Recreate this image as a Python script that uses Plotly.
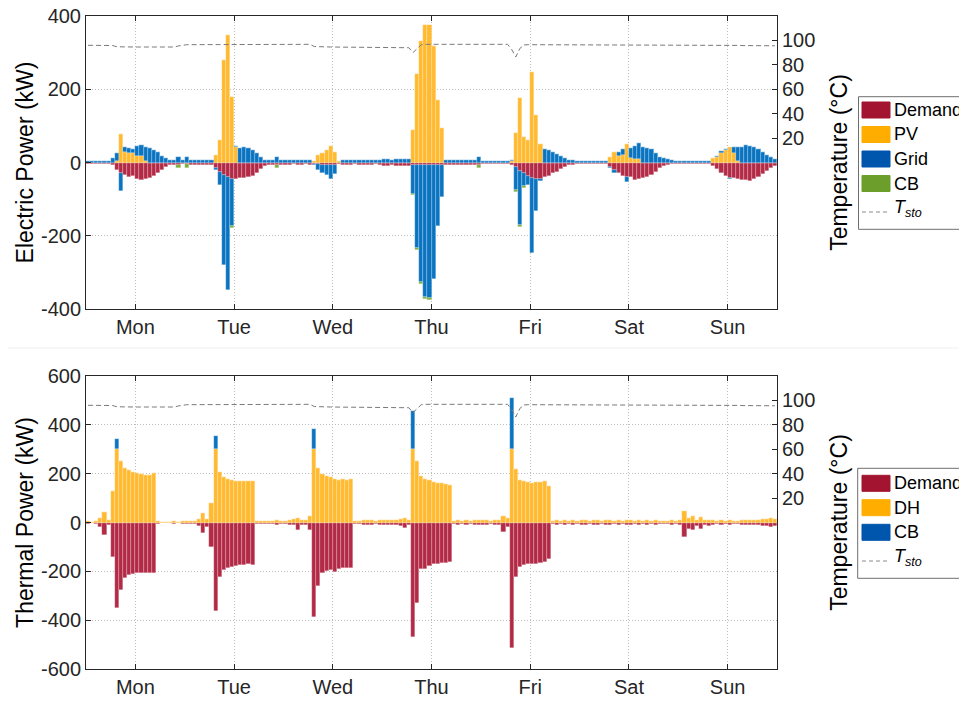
import plotly.graph_objects as go

# ---------------- data (hourly, Mon 00:00 ... Sun 23:00) ----------------
DAY_LABELS = ["Mon", "Tue", "Wed", "Thu", "Fri", "Sat", "Sun"]
DAY_TICKS = [12, 36, 60, 84, 108, 132, 156]
EL_TICKS = [-400, -200, 0, 200, 400]
EL_TICK_TEXT = ["-400", "-200", "0", "200", "400"]
TH_TICKS = [-600, -400, -200, 0, 200, 400, 600]
TH_TICK_TEXT = ["-600", "-400", "-200", "0", "200", "400", "600"]
T_TICKS = [20, 40, 60, 80, 100]

el_demand = [
    -5, -5, -5, -5, -5, -5, -8, -20, -30, -35, -40, -38, -45, -48, -45, -42, -38, -30, -20, -13, -8, -6, -6, -5,
    -5, -6, -6, -6, -6, -6, -6, -15, -25, -35, -40, -45, -45, -42, -42, -40, -36, -28, -18, -10, -6, -6, -6, -6,
    -6, -6, -5, -6, -6, -5, -6, -5, -5, -6, -6, -6, -6, -5, -6, -6, -6, -5, -6, -6, -6, -6, -5, -7,
    -9, -9, -8, -9, -9, -9, -9, -6, -6, -6, -6, -6, -6, -6, -6, -7, -7, -7, -7, -7, -6, -7, -7, -6,
    -5, -5, -5, -5, -5, -5, -5, -8, -12, -22, -30, -37, -42, -45, -44, -40, -36, -30, -25, -18, -12, -8, -6, -5,
    -5, -5, -5, -5, -5, -5, -5, -11, -20, -30, -37, -40, -40, -48, -46, -43, -40, -34, -25, -16, -10, -7, -5, -5,
    -5, -5, -5, -5, -5, -5, -5, -5, -10, -18, -28, -36, -43, -42, -45, -47, -48, -50, -46, -40, -32, -22, -15, -10,
]
el_pv = [
    0, 0, 0, 0, 0, 0, 0, 5, 77, 30, 25, 25, 18, 18, 3, 0, 0, 0, 0, 0, 0, 0, 0, 0,
    0, 0, 0, 0, 0, 0, 0, 20, 61, 280, 348, 178, 41, 0, 0, 0, 0, 0, 0, 0, 0, 0, 0, 0,
    0, 0, 0, 0, 0, 0, 0, 5, 20, 27, 34, 45, 30, 4, 0, 0, 0, 0, 0, 0, 0, 0, 0, 0,
    0, 0, 0, 0, 0, 0, 0, 89, 243, 333, 375, 375, 318, 172, 93, 0, 0, 0, 0, 0, 0, 0, 0, 0,
    0, 0, 0, 0, 0, 0, 0, 5, 80, 177, 69, 61, 248, 130, 50, 0, 0, 0, 0, 0, 0, 0, 0, 0,
    0, 0, 0, 0, 0, 0, 0, 14, 28, 18, 20, 50, 11, 9, 9, 0, 0, 0, 0, 0, 0, 0, 0, 0,
    0, 0, 0, 0, 0, 0, 0, 0, 11, 15, 27, 34, 43, 27, 3, 0, 0, 0, 0, 0, 0, 0, 0, 0,
]
el_grid = [
    5, 5, 5, 5, 5, 5, 11, 20, -47, 13, 15, 13, 27, 30, 40, 40, 35, 28, 18, 12, 8, 6, 15, 6,
    15, 7, 7, 7, 7, 7, 7, -5, -36, -245, -308, -128, 4, 40, 42, 40, 35, 25, 14, 8, 6, 6, 15, 6,
    6, 6, 6, 6, 6, 6, 6, -2, -16, -22, -29, -40, -25, 1, 6, 6, 6, 6, 6, 6, 6, 6, 6, 7,
    9, 9, 8, 9, 9, 9, 9, -79, -228, -320, -362, -365, -312, -166, -87, 7, 7, 7, 7, 7, 6, 7, 7, 15,
    5, 5, 5, 5, 5, 5, 5, 3, -63, -148, -33, -24, -206, -87, -6, 38, 35, 30, 24, 18, 12, 8, 6, 5,
    5, 5, 5, 5, 5, 5, 5, -3, -10, 12, 17, -12, 29, 36, 43, 43, 39, 36, 25, 16, 11, 9, 7, 5,
    5, 5, 5, 5, 5, 5, 5, 5, 1, 3, 5, 3, -3, 15, 39, 43, 48, 45, 43, 36, 30, 20, 14, 9,
]
el_cb = [
    0, 0, 0, 0, 0, 0, 0, 0, 0, 0, 0, 0, 0, 0, 0, 0, 0, 0, 0, 0, 0, 0, -10, 0,
    -10, 0, 0, 0, 0, 0, 0, 0, 0, 0, 0, -5, 0, 0, 0, 0, 0, 0, 0, 0, 0, 0, -8, 0,
    0, 0, 0, 0, 0, 0, 0, 0, 0, 0, 0, 0, 0, 0, 0, 0, 0, 0, 0, 0, 0, 0, 0, 0,
    0, 0, 0, 0, 0, 0, 0, -4, -5, -5, -5, -4, 0, 0, 0, 0, 0, 0, 0, 0, 0, 0, 0, -8,
    0, 0, 0, 0, 0, 0, 0, 0, -5, -7, -6, 0, 0, 0, 0, 0, 0, 0, 0, 0, 0, 0, 0, 0,
    0, 0, 0, 0, 0, 0, 0, 0, 0, 0, 0, 0, 0, 0, 0, 0, 0, 0, 0, 0, 0, 0, 0, 0,
    0, 0, 0, 0, 0, 0, 0, 0, 0, 0, 0, 0, 0, 0, 0, 0, 0, 0, 0, 0, 0, 0, 0, 0,
]

th_demand = [
    -5, -4, -6, -20, -51, -10, -140, -351, -276, -228, -215, -211, -205, -208, -205, -205, -208, -5, -4, -4, -4, -5, -4, -5,
    -5, -5, -6, -15, -45, -20, -100, -361, -222, -195, -185, -184, -180, -175, -175, -170, -174, -6, -5, -6, -7, -8, -9, -8,
    -8, -10, -12, -30, -10, -12, -30, -388, -262, -208, -200, -195, -201, -190, -185, -185, -188, -8, -8, -9, -10, -9, -8, -10,
    -10, -12, -10, -12, -15, -22, -12, -467, -330, -190, -190, -180, -170, -168, -165, -165, -160, -8, -9, -8, -9, -8, -9, -10,
    -9, -10, -8, -10, -12, -37, -20, -515, -222, -181, -175, -170, -170, -168, -165, -160, -150, -8, -9, -8, -10, -8, -9, -8,
    -9, -10, -8, -10, -9, -8, -9, -10, -8, -9, -8, -9, -10, -8, -9, -8, -9, -8, -9, -8, -7, -8, -9, -8,
    -10, -58, -25, -30, -15, -28, -12, -15, -9, -8, -9, -8, -9, -8, -8, -9, -10, -12, -10, -12, -16, -15, -17, -16,
]
th_dh = [
    5, 4, 6, 18, 44, 10, 130, 300, 250, 222, 217, 208, 201, 198, 194, 194, 201, 5, 4, 4, 4, 5, 4, 5,
    5, 5, 6, 15, 40, 15, 80, 300, 205, 188, 180, 175, 172, 170, 170, 168, 168, 6, 5, 6, 7, 8, 9, 8,
    8, 10, 15, 20, 10, 12, 25, 300, 222, 200, 190, 185, 180, 175, 180, 175, 178, 8, 8, 9, 10, 9, 8, 10,
    10, 12, 10, 12, 15, 20, 12, 300, 250, 190, 180, 175, 165, 162, 160, 158, 155, 8, 9, 8, 9, 8, 9, 10,
    9, 10, 8, 10, 12, 27, 20, 300, 220, 174, 170, 165, 160, 165, 165, 170, 150, 8, 9, 8, 10, 8, 9, 8,
    9, 10, 8, 10, 9, 8, 9, 10, 8, 9, 8, 9, 10, 8, 9, 8, 9, 8, 9, 8, 7, 8, 9, 8,
    10, 48, 20, 25, 12, 22, 10, 12, 9, 8, 9, 8, 9, 8, 8, 9, 10, 12, 10, 12, 16, 15, 17, 16,
]
th_cb = [
    0, 0, 0, 0, 0, 0, 0, 42, 0, 0, 0, 0, 0, 0, 0, 0, 0, 0, 0, 0, 0, 0, 0, 0,
    0, 0, 0, 0, 0, 0, 0, 54, 0, 0, 0, 0, 0, 0, 0, 0, 0, 0, 0, 0, 0, 0, 0, 0,
    0, 0, 0, 0, 0, 0, 0, 82, 0, 0, 0, 0, 0, 0, 0, 0, 0, 0, 0, 0, 0, 0, 0, 0,
    0, 0, 0, 0, 0, 0, 0, 157, 0, 0, 0, 0, 0, 0, 0, 0, 0, 0, 0, 0, 0, 0, 0, 0,
    0, 0, 0, 0, 0, 0, 0, 208, 0, 0, 0, 0, 0, 0, 0, 0, 0, 0, 0, 0, 0, 0, 0, 0,
    0, 0, 0, 0, 0, 0, 0, 0, 0, 0, 0, 0, 0, 0, 0, 0, 0, 0, 0, 0, 0, 0, 0, 0,
    0, 0, 0, 0, 0, 0, 0, 0, 0, 0, 0, 0, 0, 0, 0, 0, 0, 0, 0, 0, 0, 0, 0, 0,
]

t_sto = [
    96.0, 96.0, 96.0, 96.0, 96.0, 96.0, 95.8, 94.8, 94.6, 94.6, 94.6, 94.6, 94.6, 94.6, 94.5, 94.5, 94.5, 94.5, 94.5, 94.5, 94.5, 94.6, 95.5, 96.3,
    96.5, 96.5, 96.6, 96.6, 96.5, 96.5, 96.5, 96.5, 96.6, 96.6, 96.6, 96.6, 96.8, 96.8, 96.8, 96.8, 96.8, 96.9, 97.0, 97.0, 97.0, 97.0, 97.0, 97.0,
    97.0, 97.0, 97.0, 97.0, 97.0, 96.9, 96.8, 95.0, 94.7, 94.7, 94.7, 94.6, 94.6, 94.6, 94.6, 94.6, 94.5, 94.5, 94.5, 94.5, 94.4, 94.4, 94.4, 94.4,
    94.3, 94.3, 94.3, 94.2, 94.2, 94.2, 94.0, 90.0, 93.5, 96.5, 96.8, 96.8, 96.8, 96.8, 96.8, 96.8, 96.9, 96.9, 97.0, 97.0, 97.0, 97.0, 97.0, 97.0,
    97.0, 97.0, 97.0, 97.0, 97.0, 97.0, 96.8, 92.5, 86.5, 93.5, 96.3, 96.5, 96.5, 96.5, 96.5, 96.5, 96.5, 96.5, 96.5, 96.5, 96.5, 96.5, 96.4, 96.4,
    96.4, 96.3, 96.3, 96.3, 96.3, 96.3, 96.3, 96.4, 96.5, 96.5, 96.5, 96.5, 96.5, 96.5, 96.5, 96.5, 96.5, 96.5, 96.5, 96.5, 96.5, 96.5, 96.5, 96.5,
    96.5, 96.5, 96.5, 96.4, 96.3, 96.2, 96.1, 96.0, 96.0, 96.0, 96.0, 96.0, 96.0, 95.9, 95.9, 95.8, 95.8, 95.8, 95.7, 95.7, 95.7, 95.6, 95.6, 95.6,
]

hour = list(range(len(el_demand)))
xc = [h + 0.5 for h in hour]

# ---------------- styling ----------------
FONT = "Liberation Sans, Arial, Helvetica, sans-serif"
INK = "#262626"
C_DEM, C_PV, C_GRID, C_CB = "#B22A45", "#FFBA30", "#0B74C1", "#7AAE3A"
L_DEM, L_PV, L_GRID, L_CB = "#A2142F", "#FFAE00", "#0055AD", "#6B9E2A"

# page body has an 8px margin, so the figure is made 8px smaller and all
# window-pixel positions below are shifted by that offset
OFF = 8
WIN_W, WIN_H = 967, 703
W, H = WIN_W - OFF, WIN_H - OFF
# plot-area edges in window pixels
AX_L, AX_R, AX_T, AX_B = 86, 777, 16, 669
PL, PR, PT, PB = AX_L - OFF, AX_R - OFF, AX_T - OFF, AX_B - OFF


def fx(px):  # window px -> paper x
    return (px - AX_L) / (AX_R - AX_L)


def fy(py):  # window px -> paper y
    return (AX_B - py) / (AX_B - AX_T)


fig = go.Figure()


def add_bar(y, name, color, xa, ya):
    fig.add_trace(go.Bar(
        x=xc, y=y, name=name, width=1, xaxis=xa, yaxis=ya, showlegend=False,
        marker=dict(color=color, line=dict(width=0.5, color="rgba(255,255,255,0.45)")),
    ))


add_bar(el_demand, "Demand", C_DEM, "x", "y")
add_bar(el_pv, "PV", C_PV, "x", "y")
add_bar(el_grid, "Grid", C_GRID, "x", "y")
add_bar(el_cb, "CB", C_CB, "x", "y")
fig.add_trace(go.Scatter(x=xc, y=t_sto, mode="lines", name="T_sto", xaxis="x", yaxis="y2",
                         showlegend=False, line=dict(color="#7a7a7a", width=1, dash="5px,3px")))

add_bar(th_demand, "Demand", C_DEM, "x2", "y3")
add_bar(th_dh, "DH", C_PV, "x2", "y3")
add_bar(th_cb, "CB", C_GRID, "x2", "y3")
fig.add_trace(go.Scatter(x=xc, y=t_sto, mode="lines", name="T_sto", xaxis="x2", yaxis="y4",
                         showlegend=False, line=dict(color="#7a7a7a", width=1, dash="5px,3px")))

GRID = dict(showgrid=True, gridcolor="#bdbdbd", griddash="1px,2px", gridwidth=1)
TICKFONT = dict(size=20, color=INK, family=FONT)
xcommon = dict(range=[0, 168], tickmode="array", tickvals=DAY_TICKS, ticktext=DAY_LABELS,
               ticks="inside", ticklen=5, tickcolor=INK, showline=True, linecolor=INK, linewidth=1,
               mirror="ticks", zeroline=False, tickfont=TICKFONT, ticklabeloverflow="allow",
               domain=[0, 1], automargin=False, **GRID)
ycommon = dict(ticks="inside", ticklen=5, tickcolor=INK, showline=True, linecolor=INK, linewidth=1,
               zeroline=False, tickfont=TICKFONT, ticklabeloverflow="allow", tickmode="array",
               automargin=False, **GRID)
yright = dict(range=[-120, 120], tickmode="array", tickvals=T_TICKS, side="right",
              ticks="inside", ticklen=5, tickcolor=INK, showline=True, linecolor=INK, linewidth=1,
              showgrid=False, zeroline=False, tickfont=TICKFONT, ticklabeloverflow="allow",
              automargin=False,
              title=dict(text="Temperature (°C)", font=dict(size=23, color="#000000", family=FONT), standoff=16))

top_dom = [fy(309), 1]
bot_dom = [0, fy(376)]

fig.update_layout(
    width=W, height=H, paper_bgcolor="white", plot_bgcolor="white",
    margin=dict(l=PL, r=W - PR, t=PT, b=H - PB, autoexpand=False),
    barmode="relative", bargap=0, font=dict(family=FONT, color=INK),
    xaxis=dict(xcommon, anchor="y"),
    yaxis=dict(ycommon, domain=top_dom, anchor="x", range=[-400, 400],
               tickvals=EL_TICKS, ticktext=EL_TICK_TEXT,
               title=dict(text="Electric Power (kW)", font=dict(size=23, color="#000000", family=FONT),
                          standoff=0)),
    yaxis2=dict(yright, overlaying="y", anchor="x"),
    xaxis2=dict(xcommon, anchor="y3"),
    yaxis3=dict(ycommon, domain=bot_dom, anchor="x2", range=[-600, 600],
                tickvals=TH_TICKS, ticktext=TH_TICK_TEXT,
                title=dict(text="Thermal Power (kW)", font=dict(size=23, color="#000000", family=FONT),
                           standoff=0)),
    yaxis4=dict(yright, overlaying="y3", anchor="x2"),
)

# ---------------- custom legends (MATLAB-style boxes) ----------------
shapes = []
annos = []


def legend_box(x0, y0, x1, y1):
    shapes.append(dict(type="rect", xref="paper", yref="paper", x0=fx(x0), x1=fx(x1), y0=fy(y1), y1=fy(y0),
                       line=dict(color="#6e6e6e", width=1), fillcolor="white", layer="above"))


def legend_patch(row_y, color, label):
    shapes.append(dict(type="rect", xref="paper", yref="paper", x0=fx(862), x1=fx(890),
                       y0=fy(row_y + 8), y1=fy(row_y - 8), line=dict(color=color, width=1),
                       fillcolor=color, layer="above"))
    annos.append(dict(xref="paper", yref="paper", x=fx(892), y=fy(row_y), text=label, showarrow=False,
                      xanchor="left", yanchor="middle", font=dict(size=18, color="#000000", family=FONT)))


def legend_line(row_y, label):
    shapes.append(dict(type="line", xref="paper", yref="paper", x0=fx(862), x1=fx(890),
                       y0=fy(row_y + 4), y1=fy(row_y + 4), line=dict(color="#8a8a8a", width=1, dash="4px,3px"),
                       layer="above"))
    annos.append(dict(xref="paper", yref="paper", x=fx(892), y=fy(row_y), text=label, showarrow=False,
                      xanchor="left", yanchor="middle", font=dict(size=18, color="#000000", family=FONT)))


TSTO = "<i>T</i><sub><i>sto</i></sub>"

legend_box(858.5, 96.7, 965.5, 229.3)
legend_patch(110, L_DEM, "Demand")
legend_patch(134.5, L_PV, "PV")
legend_patch(159, L_GRID, "Grid")
legend_patch(183.5, L_CB, "CB")
legend_line(208, TSTO)

legend_box(857.7, 468.3, 965.5, 578.3)
legend_patch(483.3, L_DEM, "Demand")
legend_patch(507.7, L_PV, "DH")
legend_patch(532.3, L_GRID, "CB")
legend_line(557, TSTO)

# faint separator between the two panels
shapes.append(dict(type="line", xref="paper", yref="paper", x0=fx(OFF), x1=fx(WIN_W), y0=fy(348), y1=fy(348),
                   line=dict(color="#f0f0f0", width=1), layer="below"))

fig.update_layout(shapes=shapes, annotations=annos)

fig.write_html("out.html")
